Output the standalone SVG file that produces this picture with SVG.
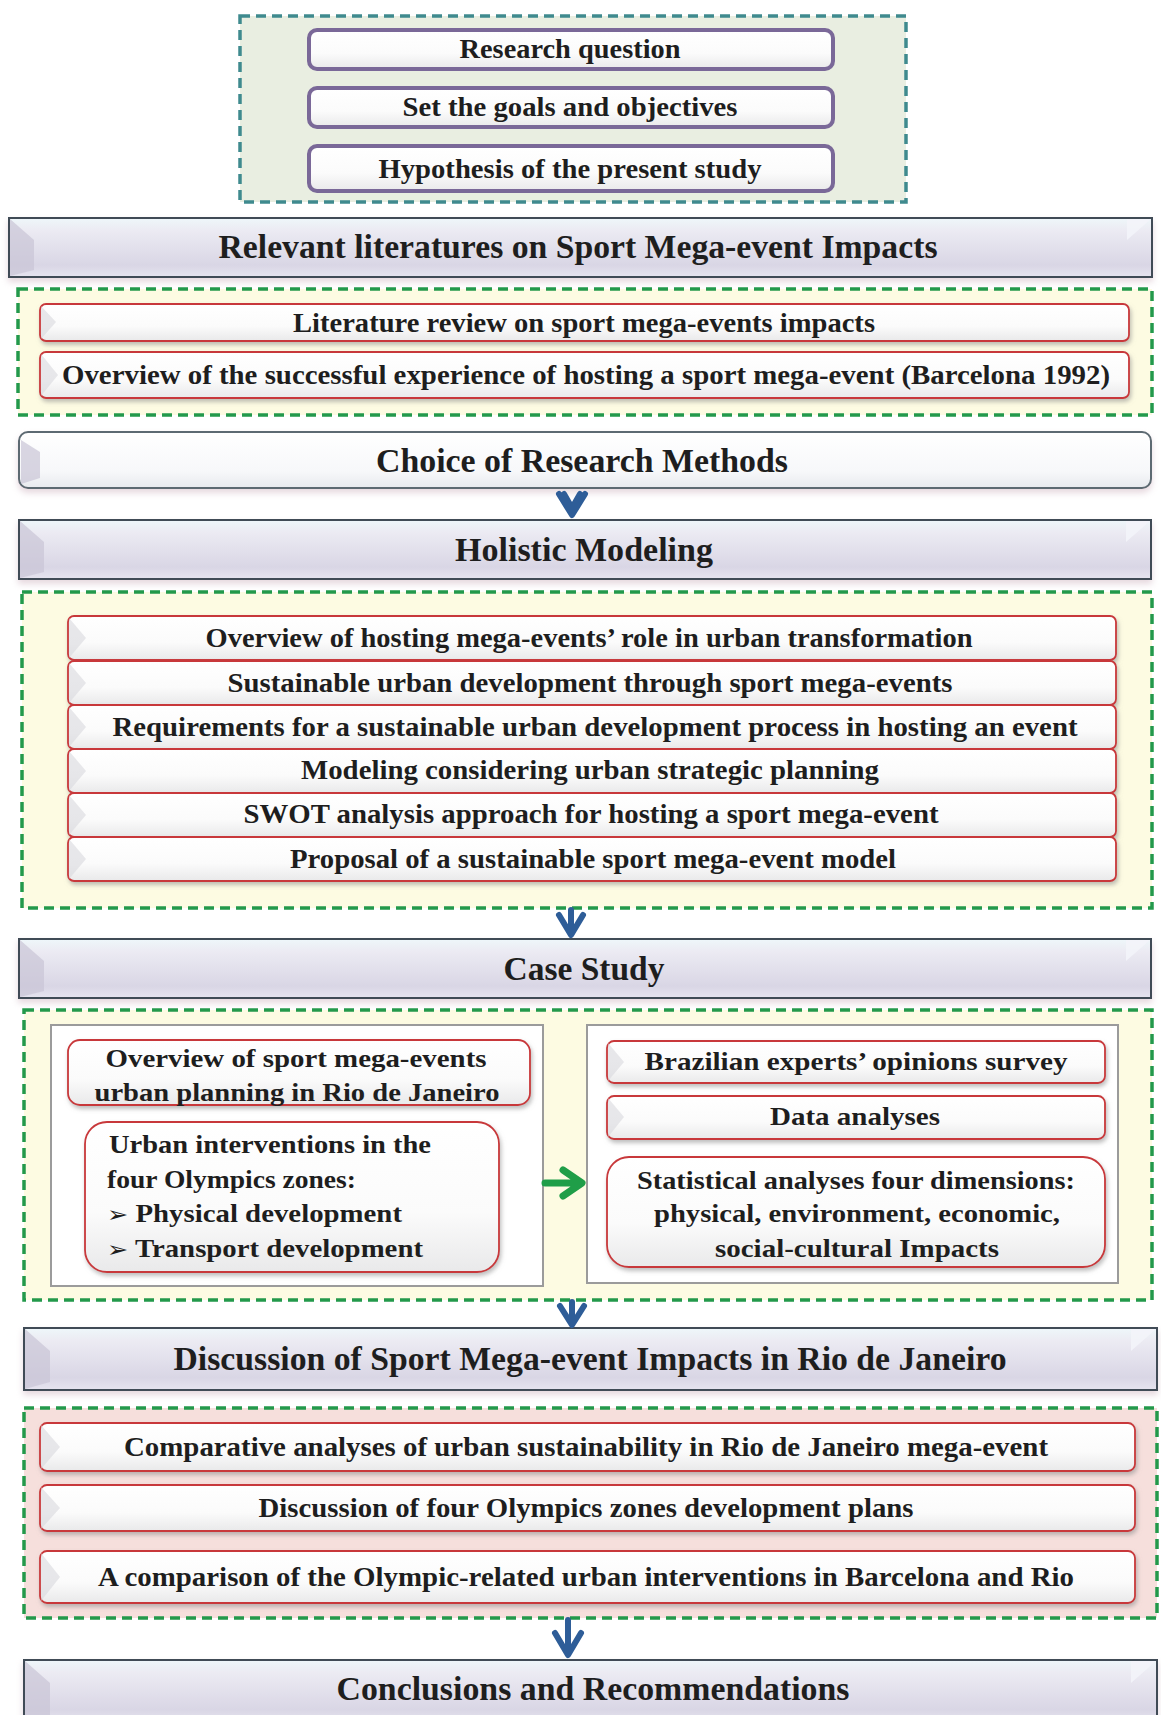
<svg xmlns="http://www.w3.org/2000/svg" width="1161" height="1715" viewBox="0 0 1161 1715">
  <defs>
    <style>
      .t { font-family: "Liberation Serif", "Times New Roman", serif; font-weight: bold; fill: #1e1e1e; }
      .bt { font-size: 33px; }
      .nt { font-size: 27px; }
      .ct { font-size: 25px; }
      .blt { font-family: "DejaVu Sans", sans-serif; font-weight: normal; font-size: 22px; }
      .frameTeal { fill: #e9eee1; stroke: #3f8a8e; stroke-width: 3.5; stroke-dasharray: 10 6; }
      .frameGreen { fill: #fdfbe2; stroke: #23994b; stroke-width: 3.5; stroke-dasharray: 10 6; }
      .framePink { fill: #f6dfdc; stroke: #23994b; stroke-width: 3.5; stroke-dasharray: 10 6; }
      .purple { fill: url(#boxFill); stroke: #7a6898; stroke-width: 4; }
      .red { fill: url(#boxFill); stroke: #c8383a; stroke-width: 1.8; filter: url(#shadow); }
      .bevel { fill: #d9d9de; opacity: 0.6; }
      .banner { fill: url(#bannerFill); stroke: #3f4b56; stroke-width: 2; filter: url(#glow); }
      .bannerLite { fill: url(#liteFill); stroke: #5d6a72; stroke-width: 2; filter: url(#glow); }
      .bannerBevL { fill: #c9c5d5; opacity: 0.7; }
      .bannerBevR { fill: #f3f4fa; opacity: 0.9; }
      .panel { fill: #ffffff; stroke: #9b9b9b; stroke-width: 2; }
      .blueArrow { fill: none; stroke: #2e5d98; stroke-width: 6; stroke-linecap: round; stroke-linejoin: round; }
      .greenArrow { fill: none; stroke: #1f9e48; stroke-width: 7; stroke-linecap: round; stroke-linejoin: round; }
    </style>
    <linearGradient id="boxFill" x1="0" y1="0" x2="0" y2="1">
      <stop offset="0" stop-color="#ffffff"/>
      <stop offset="0.6" stop-color="#fbfbfb"/>
      <stop offset="1" stop-color="#e9e9ea"/>
    </linearGradient>
    <linearGradient id="bannerFill" x1="0" y1="0" x2="0" y2="1">
      <stop offset="0" stop-color="#eef7fa"/>
      <stop offset="0.2" stop-color="#ecebf3"/>
      <stop offset="0.8" stop-color="#d9d6e5"/>
      <stop offset="1" stop-color="#e6e4ef"/>
    </linearGradient>
    <linearGradient id="liteFill" x1="0" y1="0" x2="0" y2="1">
      <stop offset="0" stop-color="#ffffff"/>
      <stop offset="0.7" stop-color="#f7f8fa"/>
      <stop offset="1" stop-color="#e8eaee"/>
    </linearGradient>
    <filter id="shadow" x="-5%" y="-30%" width="110%" height="170%">
      <feDropShadow dx="1.5" dy="3" stdDeviation="2" flood-color="#8a8a8a" flood-opacity="0.55"/>
    </filter>
    <filter id="glow" x="-3%" y="-30%" width="106%" height="170%">
      <feDropShadow dx="0" dy="4" stdDeviation="3" flood-color="#c9a9b8" flood-opacity="0.45"/>
    </filter>
  </defs>

  <rect width="1161" height="1715" fill="#ffffff"/>

  <!-- research framing -->
  <g id="framing">
    <rect class="frameTeal" x="240" y="16" width="666" height="186"/>
    <g id="research-question">
      <rect class="purple" x="309" y="30" width="524" height="39" rx="8"/>
      <text class="t nt" x="570" y="58" text-anchor="middle" textLength="221" lengthAdjust="spacingAndGlyphs">Research question</text>
    </g>
    <g id="goals">
      <rect class="purple" x="309" y="88" width="524" height="39" rx="8"/>
      <text class="t nt" x="570" y="116" text-anchor="middle" textLength="335" lengthAdjust="spacingAndGlyphs">Set the goals and objectives</text>
    </g>
    <g id="hypothesis">
      <rect class="purple" x="309" y="146" width="524" height="45" rx="8"/>
      <text class="t nt" x="570" y="178" text-anchor="middle" textLength="383" lengthAdjust="spacingAndGlyphs">Hypothesis of the present study</text>
    </g>
  </g>

  <!-- literature stage -->
  <g id="literature-banner">
    <rect class="banner" x="9" y="218" width="1143" height="59"/>
    <polygon class="bannerBevL" points="10,219 34,240 34,270 10,276"/>
    <polygon class="bannerBevR" points="1151,219 1127,240 1127,219"/>
    <text class="t bt" x="578" y="258" text-anchor="middle" textLength="719" lengthAdjust="spacingAndGlyphs">Relevant literatures on Sport Mega-event Impacts</text>
  </g>
  <g id="literature-group">
    <rect class="frameGreen" x="18" y="289" width="1134" height="126"/>
    <g id="lit-review">
      <rect class="red" x="40" y="304" width="1089" height="37" rx="6"/>
      <polygon class="bevel" points="41,306 56,322 41,339"/>
      <text class="t nt" x="584" y="332" text-anchor="middle" textLength="582" lengthAdjust="spacingAndGlyphs">Literature review on sport mega-events impacts</text>
    </g>
    <g id="barcelona-overview">
      <rect class="red" x="40" y="352" width="1089" height="46" rx="6"/>
      <polygon class="bevel" points="41,354 58,375 41,396"/>
      <text class="t nt" x="586" y="384" text-anchor="middle" textLength="1048" lengthAdjust="spacingAndGlyphs">Overview of the successful experience of hosting a sport mega-event (Barcelona 1992)</text>
    </g>
  </g>

  <!-- methods -->
  <g id="methods-banner">
    <rect class="bannerLite" x="19" y="432" width="1132" height="56" rx="9"/>
    <polygon class="bannerBevL" points="21,440 40,452 40,478 21,484" opacity="0.35"/>
    <text class="t bt" x="582" y="472" text-anchor="middle" textLength="412" lengthAdjust="spacingAndGlyphs">Choice of Research Methods</text>
  </g>

  <g id="modeling-banner">
    <rect class="banner" x="19" y="520" width="1132" height="59"/>
    <polygon class="bannerBevL" points="20,521 44,542 44,572 20,578"/>
    <polygon class="bannerBevR" points="1150,521 1126,542 1126,521"/>
    <text class="t bt" x="584" y="561" text-anchor="middle" textLength="258" lengthAdjust="spacingAndGlyphs">Holistic Modeling</text>
  </g>
  <g id="modeling-group">
    <rect class="frameGreen" x="22" y="592" width="1130" height="316"/>
    <g id="mod-1">
      <rect class="red" x="68" y="616" width="1048" height="44" rx="6"/>
      <polygon class="bevel" points="69,618 86,638 69,658"/>
      <text class="t nt" x="589" y="647" text-anchor="middle" textLength="767" lengthAdjust="spacingAndGlyphs">Overview of hosting mega-events’ role in urban transformation</text>
    </g>
    <g id="mod-2">
      <rect class="red" x="68" y="661" width="1048" height="44" rx="6"/>
      <polygon class="bevel" points="69,663 86,683 69,703"/>
      <text class="t nt" x="590" y="692" text-anchor="middle" textLength="725" lengthAdjust="spacingAndGlyphs">Sustainable urban development through sport mega-events</text>
    </g>
    <g id="mod-3">
      <rect class="red" x="68" y="705" width="1048" height="44" rx="6"/>
      <polygon class="bevel" points="69,707 86,727 69,747"/>
      <text class="t nt" x="595" y="736" text-anchor="middle" textLength="965" lengthAdjust="spacingAndGlyphs">Requirements for a sustainable urban development process in hosting an event</text>
    </g>
    <g id="mod-4">
      <rect class="red" x="68" y="749" width="1048" height="44" rx="6"/>
      <polygon class="bevel" points="69,751 86,771 69,791"/>
      <text class="t nt" x="590" y="779" text-anchor="middle" textLength="578" lengthAdjust="spacingAndGlyphs">Modeling considering urban strategic planning</text>
    </g>
    <g id="mod-5">
      <rect class="red" x="68" y="793" width="1048" height="44" rx="6"/>
      <polygon class="bevel" points="69,795 86,815 69,835"/>
      <text class="t nt" x="591" y="823" text-anchor="middle" textLength="695" lengthAdjust="spacingAndGlyphs">SWOT analysis approach for hosting a sport mega-event</text>
    </g>
    <g id="mod-6">
      <rect class="red" x="68" y="837" width="1048" height="44" rx="6"/>
      <polygon class="bevel" points="69,839 86,859 69,879"/>
      <text class="t nt" x="593" y="868" text-anchor="middle" textLength="606" lengthAdjust="spacingAndGlyphs">Proposal of a sustainable sport mega-event model</text>
    </g>
  </g>

  <!-- case study -->
  <g id="case-banner">
    <rect class="banner" x="19" y="939" width="1132" height="59"/>
    <polygon class="bannerBevL" points="20,940 44,961 44,991 20,997"/>
    <polygon class="bannerBevR" points="1150,940 1126,961 1126,940"/>
    <text class="t bt" x="584" y="980" text-anchor="middle" textLength="161" lengthAdjust="spacingAndGlyphs">Case Study</text>
  </g>
  <g id="case-group">
    <rect class="frameGreen" x="24" y="1010" width="1128" height="290"/>
    <rect class="panel" x="51" y="1025" width="492" height="261"/>
    <rect class="panel" x="587" y="1025" width="531" height="258"/>
    <g id="rio-overview">
      <rect class="red" x="68" y="1040" width="462" height="65" rx="12"/>
      <text class="t ct" x="296" y="1067" text-anchor="middle" textLength="381" lengthAdjust="spacingAndGlyphs">Overview of sport mega-events</text>
      <text class="t ct" x="297" y="1101" text-anchor="middle" textLength="405" lengthAdjust="spacingAndGlyphs">urban planning in Rio de Janeiro</text>
    </g>
    <g id="zone-interventions">
      <rect class="red" x="85" y="1122" width="414" height="150" rx="22"/>
      <text class="t ct" x="109" y="1153" textLength="322" lengthAdjust="spacingAndGlyphs">Urban interventions in the</text>
      <text class="t ct" x="107" y="1188" textLength="249" lengthAdjust="spacingAndGlyphs">four Olympics zones:</text>
      <text class="t ct" x="107" y="1222" textLength="295" lengthAdjust="spacingAndGlyphs"><tspan class="blt">➢</tspan> Physical development</text>
      <text class="t ct" x="107" y="1257" textLength="316" lengthAdjust="spacingAndGlyphs"><tspan class="blt">➢</tspan> Transport development</text>
    </g>
    <g id="expert-survey">
      <rect class="red" x="607" y="1041" width="498" height="42" rx="7"/>
      <polygon class="bevel" points="608,1043 624,1062 608,1081"/>
      <text class="t ct" x="856" y="1070" text-anchor="middle" textLength="423" lengthAdjust="spacingAndGlyphs">Brazilian experts’ opinions survey</text>
    </g>
    <g id="data-analyses">
      <rect class="red" x="607" y="1096" width="498" height="43" rx="7"/>
      <polygon class="bevel" points="608,1098 624,1117 608,1137"/>
      <text class="t ct" x="855" y="1125" text-anchor="middle" textLength="170" lengthAdjust="spacingAndGlyphs">Data analyses</text>
    </g>
    <g id="statistical-analyses">
      <rect class="red" x="607" y="1157" width="498" height="110" rx="22"/>
      <text class="t ct" x="856" y="1189" text-anchor="middle" textLength="438" lengthAdjust="spacingAndGlyphs">Statistical analyses four dimensions:</text>
      <text class="t ct" x="857" y="1222" text-anchor="middle" textLength="406" lengthAdjust="spacingAndGlyphs">physical, environment, economic,</text>
      <text class="t ct" x="857" y="1257" text-anchor="middle" textLength="284" lengthAdjust="spacingAndGlyphs">social-cultural Impacts</text>
    </g>
  </g>

  <!-- discussion -->
  <g id="discussion-banner">
    <rect class="banner" x="24" y="1328" width="1133" height="62"/>
    <polygon class="bannerBevL" points="25,1329 50,1351 50,1382 25,1389"/>
    <polygon class="bannerBevR" points="1156,1329 1131,1351 1131,1329"/>
    <text class="t bt" x="590" y="1370" text-anchor="middle" textLength="833" lengthAdjust="spacingAndGlyphs">Discussion of Sport Mega-event Impacts in Rio de Janeiro</text>
  </g>
  <g id="discussion-group">
    <rect class="framePink" x="24" y="1408" width="1133" height="210"/>
    <g id="disc-1">
      <rect class="red" x="40" y="1423" width="1095" height="48" rx="7"/>
      <polygon class="bevel" points="41,1425 60,1447 41,1469"/>
      <text class="t nt" x="586" y="1456" text-anchor="middle" textLength="924" lengthAdjust="spacingAndGlyphs">Comparative analyses of urban sustainability in Rio de Janeiro mega-event</text>
    </g>
    <g id="disc-2">
      <rect class="red" x="40" y="1485" width="1095" height="46" rx="7"/>
      <polygon class="bevel" points="41,1487 60,1508 41,1529"/>
      <text class="t nt" x="586" y="1517" text-anchor="middle" textLength="655" lengthAdjust="spacingAndGlyphs">Discussion of four Olympics zones development plans</text>
    </g>
    <g id="disc-3">
      <rect class="red" x="40" y="1551" width="1095" height="52" rx="7"/>
      <polygon class="bevel" points="41,1553 60,1577 41,1601"/>
      <text class="t nt" x="586" y="1586" text-anchor="middle" textLength="976" lengthAdjust="spacingAndGlyphs">A comparison of the Olympic-related urban interventions in Barcelona and Rio</text>
    </g>
  </g>

  <g id="conclusions-banner">
    <rect class="banner" x="24" y="1660" width="1133" height="62"/>
    <polygon class="bannerBevL" points="25,1661 50,1683 50,1715 25,1715"/>
    <polygon class="bannerBevR" points="1156,1661 1131,1683 1131,1661"/>
    <text class="t bt" x="593" y="1700" text-anchor="middle" textLength="513" lengthAdjust="spacingAndGlyphs">Conclusions and Recommendations</text>
  </g>

  <!-- flow arrows -->
  <g id="connectors">
    <path class="blueArrow" d="M559,494 L572,515 L585,494 M564,494 L572,508 L580,494"/>
    <path class="blueArrow" d="M571,910 L571,934 M559,915 L571,935 L583,915"/>
    <path class="blueArrow" d="M572,1302 L572,1324 M560,1306 L572,1325 L584,1306"/>
    <path class="blueArrow" d="M568,1620 L568,1654 M555,1633 L568,1655 L581,1633"/>
    <path class="greenArrow" d="M545,1183 L580,1183 M563,1170 L582,1183 L563,1196"/>
  </g>
</svg>
